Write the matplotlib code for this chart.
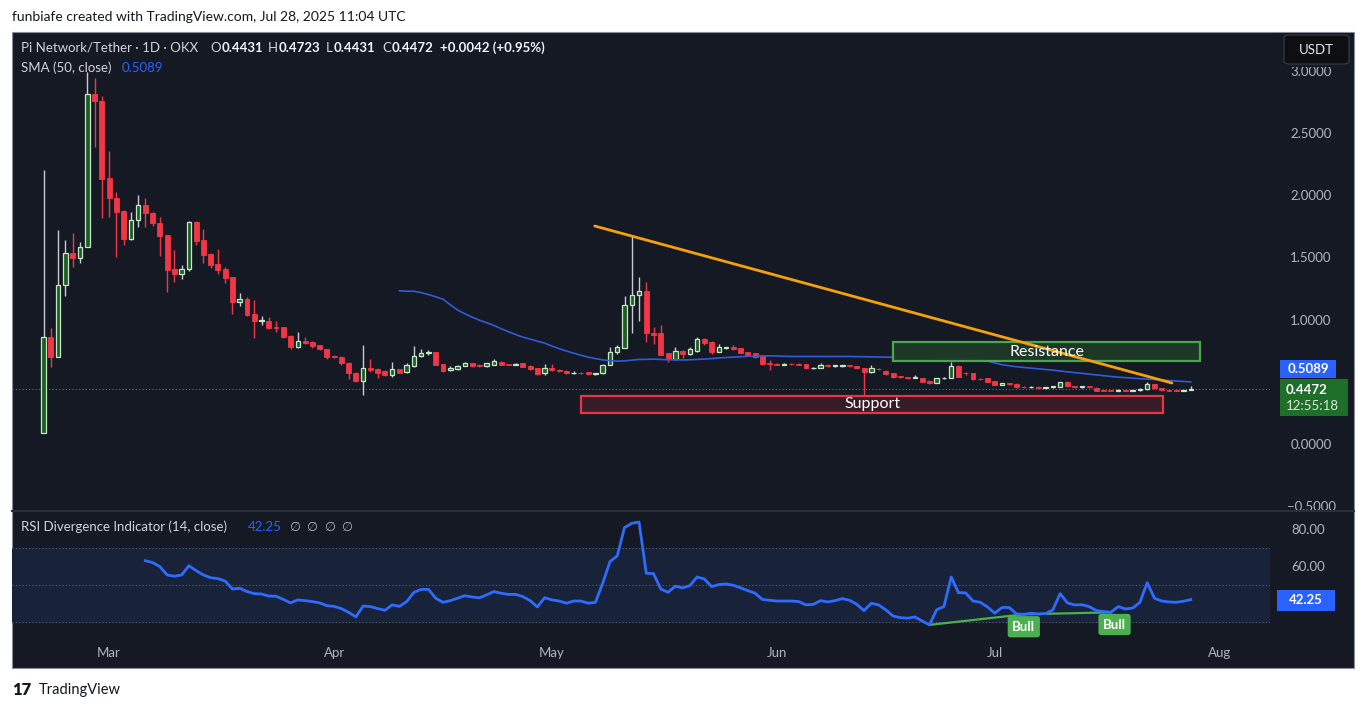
import numpy as np
import pandas as pd
import matplotlib
matplotlib.use("Agg")
import matplotlib.pyplot as plt
from matplotlib.patches import Rectangle, FancyBboxPatch
import matplotlib.transforms as mtransforms

plt.rcParams['font.family'] = ['Lato', 'DejaVu Sans']

# ---------------- data ----------------
dates = pd.date_range('2025-02-20', '2025-07-28', freq='D')

opens = [0.10, 0.87, 0.71, 1.285, 1.545, 1.505, 1.59, 2.82, 2.765, 2.145,
         1.985, 1.88, 1.655, 1.81, 1.93, 1.865, 1.785, 1.687, 1.41, 1.37,
         1.415, 1.79, 1.645, 1.535, 1.455, 1.41, 1.35, 1.145, 1.17, 1.05,
         0.995, 0.998, 0.945, 0.945, 0.875, 0.785, 0.838, 0.825, 0.80, 0.77,
         0.715, 0.71, 0.66, 0.576, 0.516, 0.62, 0.61, 0.594, 0.562, 0.608,
         0.584, 0.634, 0.715, 0.737, 0.745, 0.648, 0.60, 0.61, 0.637, 0.655,
         0.64, 0.636, 0.645, 0.67, 0.648, 0.646, 0.656, 0.634, 0.616, 0.576,
         0.62, 0.602, 0.597, 0.576, 0.58, 0.585, 0.57, 0.575, 0.643, 0.745,
         0.78, 1.125, 1.205, 1.24, 0.90, 0.897, 0.737, 0.688, 0.755, 0.731,
         0.755, 0.849, 0.83, 0.75, 0.782, 0.79, 0.776, 0.745, 0.737, 0.715,
         0.656, 0.652, 0.645, 0.652, 0.648, 0.648, 0.616, 0.62, 0.645, 0.632,
         0.635, 0.64, 0.632, 0.616, 0.584, 0.612, 0.597, 0.576, 0.548, 0.545,
         0.54, 0.536, 0.516, 0.50, 0.536, 0.536, 0.634, 0.58, 0.576, 0.53,
         0.535, 0.514, 0.482, 0.495, 0.49, 0.465, 0.462, 0.466, 0.46, 0.462,
         0.468, 0.508, 0.472, 0.468, 0.47, 0.46, 0.438, 0.437, 0.434, 0.44,
         0.437, 0.441, 0.45, 0.487, 0.455, 0.44, 0.44, 0.437, 0.4431]
highs = [2.21, 0.94, 1.73, 1.65, 1.70, 1.63, 3.00, 2.95, 2.80, 2.36,
         2.03, 1.89, 1.87, 2.01, 1.985, 1.87, 1.83, 1.69, 1.57, 1.445,
         1.80, 1.80, 1.735, 1.54, 1.575, 1.43, 1.35, 1.22, 1.19, 1.165,
         1.04, 1.03, 0.998, 0.95, 0.88, 0.905, 0.865, 0.835, 0.805, 0.775,
         0.725, 0.715, 0.665, 0.59, 0.80, 0.69, 0.615, 0.60, 0.664, 0.61,
         0.66, 0.795, 0.775, 0.765, 0.75, 0.65, 0.635, 0.645, 0.67, 0.66,
         0.65, 0.66, 0.69, 0.675, 0.65, 0.655, 0.66, 0.64, 0.62, 0.65,
         0.65, 0.61, 0.60, 0.595, 0.585, 0.59, 0.58, 0.65, 0.79, 0.80,
         1.20, 1.68, 1.347, 1.307, 0.95, 0.964, 0.74, 0.79, 0.76, 0.79,
         0.87, 0.86, 0.835, 0.81, 0.79, 0.80, 0.78, 0.75, 0.74, 0.72,
         0.68, 0.655, 0.66, 0.66, 0.655, 0.65, 0.625, 0.655, 0.65, 0.645,
         0.645, 0.645, 0.635, 0.62, 0.64, 0.62, 0.60, 0.58, 0.555, 0.55,
         0.56, 0.54, 0.52, 0.54, 0.545, 0.67, 0.64, 0.59, 0.58, 0.54,
         0.54, 0.515, 0.50, 0.50, 0.495, 0.47, 0.475, 0.47, 0.465, 0.475,
         0.51, 0.515, 0.475, 0.475, 0.475, 0.465, 0.44, 0.44, 0.45, 0.445,
         0.445, 0.46, 0.51, 0.49, 0.46, 0.445, 0.445, 0.445, 0.4723]
lows = [0.10, 0.63, 0.71, 1.20, 1.43, 1.46, 1.59, 2.39, 1.82, 1.83,
        1.51, 1.61, 1.65, 1.75, 1.75, 1.76, 1.52, 1.23, 1.31, 1.33,
        1.40, 1.607, 1.46, 1.425, 1.37, 1.30, 1.05, 1.115, 1.04, 0.86,
        0.965, 0.93, 0.91, 0.86, 0.775, 0.78, 0.81, 0.78, 0.76, 0.69,
        0.70, 0.645, 0.53, 0.51, 0.40, 0.59, 0.54, 0.555, 0.544, 0.575,
        0.58, 0.63, 0.71, 0.725, 0.64, 0.59, 0.595, 0.605, 0.635, 0.63,
        0.628, 0.63, 0.64, 0.64, 0.64, 0.64, 0.625, 0.60, 0.56, 0.56,
        0.595, 0.59, 0.57, 0.57, 0.57, 0.565, 0.565, 0.57, 0.64, 0.73,
        0.78, 0.90, 1.0, 0.83, 0.81, 0.72, 0.67, 0.685, 0.70, 0.725,
        0.75, 0.80, 0.73, 0.745, 0.775, 0.765, 0.735, 0.715, 0.70, 0.645,
        0.60, 0.64, 0.64, 0.645, 0.64, 0.61, 0.61, 0.615, 0.63, 0.628,
        0.63, 0.628, 0.61, 0.39, 0.58, 0.60, 0.565, 0.54, 0.535, 0.53,
        0.535, 0.505, 0.49, 0.495, 0.53, 0.535, 0.545, 0.56, 0.525, 0.52,
        0.505, 0.478, 0.478, 0.485, 0.46, 0.455, 0.455, 0.455, 0.455, 0.458,
        0.465, 0.465, 0.46, 0.46, 0.46, 0.43, 0.43, 0.43, 0.43, 0.43,
        0.43, 0.435, 0.445, 0.45, 0.435, 0.43, 0.43, 0.43, 0.4431]
closes = [0.87, 0.71, 1.285, 1.545, 1.505, 1.59, 2.82, 2.765, 2.14, 1.98,
          1.875, 1.655, 1.81, 1.93, 1.865, 1.78, 1.68, 1.405, 1.37, 1.415,
          1.79, 1.64, 1.525, 1.445, 1.405, 1.345, 1.145, 1.17, 1.045, 0.995,
          1.0, 0.937, 0.94, 0.87, 0.785, 0.838, 0.82, 0.795, 0.77, 0.71,
          0.705, 0.656, 0.576, 0.516, 0.62, 0.60, 0.576, 0.562, 0.608, 0.58,
          0.643, 0.715, 0.737, 0.745, 0.643, 0.594, 0.62, 0.637, 0.655, 0.632,
          0.636, 0.655, 0.675, 0.645, 0.646, 0.648, 0.629, 0.608, 0.57, 0.616,
          0.60, 0.598, 0.576, 0.58, 0.575, 0.57, 0.573, 0.643, 0.745, 0.79,
          1.125, 1.205, 1.24, 0.897, 0.885, 0.723, 0.688, 0.755, 0.731, 0.769,
          0.849, 0.817, 0.75, 0.785, 0.785, 0.769, 0.741, 0.723, 0.71, 0.65,
          0.652, 0.645, 0.648, 0.648, 0.644, 0.616, 0.62, 0.645, 0.632, 0.64,
          0.642, 0.632, 0.616, 0.584, 0.616, 0.608, 0.568, 0.544, 0.545, 0.54,
          0.545, 0.508, 0.496, 0.536, 0.54, 0.634, 0.55, 0.575, 0.528, 0.528,
          0.51, 0.482, 0.495, 0.49, 0.463, 0.462, 0.466, 0.46, 0.462, 0.47,
          0.504, 0.47, 0.468, 0.47, 0.467, 0.436, 0.436, 0.434, 0.44, 0.437,
          0.441, 0.45, 0.487, 0.455, 0.44, 0.436, 0.437, 0.443, 0.4472]

rsi_start = 14
rsi_values = [63.3, 62.3, 60.1, 55.6, 54.9, 55.6, 60.6, 57.9, 55.6, 54.1,
              53.6, 52.3, 48.0, 48.4, 46.6, 45.5, 45.3, 44.2, 44.1, 42.4,
              40.5, 42.1, 41.7, 41.2, 40.5, 39.0, 38.6, 37.4, 35.4, 32.9,
              38.8, 38.5, 37.4, 36.5, 39.4, 38.6, 41.2, 46.2, 47.8, 47.8,
              43.0, 40.8, 41.7, 43.0, 44.4, 43.7, 43.2, 44.8, 46.6, 45.7,
              45.1, 45.1, 43.9, 41.7, 38.3, 43.3, 42.1, 41.5, 40.3, 41.5,
              41.5, 40.3, 40.8, 51.1, 62.8, 65.9, 81.2, 83.5, 84.2, 56.5,
              56.3, 48.0, 46.2, 49.5, 48.6, 49.8, 54.5, 53.4, 49.3, 50.4,
              50.7, 50.0, 48.6, 47.1, 45.7, 42.3, 41.9, 41.5, 41.5, 41.5,
              41.2, 39.4, 39.7, 41.7, 41.0, 41.7, 42.8, 41.9, 39.7, 36.3,
              40.3, 39.4, 36.7, 33.4, 32.5, 32.2, 32.9, 30.7, 28.6, 36.8,
              38.5, 54.5, 46.0, 45.9, 41.5, 40.8, 38.3, 34.9, 38.0, 38.0,
              34.5, 34.3, 34.9, 34.5, 34.7, 36.7, 45.5, 40.5, 39.4, 39.5,
              38.5, 36.3, 35.8, 35.4, 38.5, 37.2, 37.7, 40.8, 51.4, 43.0,
              41.5, 41.0, 40.8, 41.4, 42.25]

# bullish divergence pivots (bar index, rsi)
div_idx = [122, 135, 147]
div_rsi = [28.6, 34.3, 35.4]
bull_label_idx = [135, 147.5]
bull_label_rsi = [27.6, 28.8]

month_labels = ['Mar', 'Apr', 'May', 'Jun', 'Jul', 'Aug']
month_dates = ['2025-03-01', '2025-04-01', '2025-05-01', '2025-06-01', '2025-07-01', '2025-08-01']
price_ticks = [3.0, 2.5, 2.0, 1.5, 1.0, 0.0, -0.5]
rsi_ticks = [80, 60]

trend_idx = [75.9, 155.4]
trend_price = [1.759, 0.498]
resist_idx = [117.0, 159.3]
resist_price = [0.675, 0.827]
support_idx = [74.0, 154.2]
support_price = [0.257, 0.394]

sma_len = 50
last_price = 0.4472
sma_last = 0.5089
rsi_last = 42.25

# ---------------- figure ----------------
W, H = 1366, 709
fig = plt.figure(figsize=(W / 100, H / 100), dpi=100)
fig.patch.set_facecolor('white')

def frect(x0, y0, x1, y1):
    return [x0 / W, 1 - y1 / H, (x1 - x0) / W, (y1 - y0) / H]

def ptext(x, y, s, **kw):
    return fig.text(x / W, 1 - y / H, s, **kw)

BG = '#151924'
TXT = '#d1d4dc'
SCALE_TXT = '#b2b5be'
BLUE = '#2962ff'
RED = '#f23645'
GREEN_BODY = '#1c5e22'
GREEN_EDGE = '#c8e6c9'

# dark chart panel (behind everything)
fig.patches.append(Rectangle((12 / W, 1 - 668 / H), (1354 - 12) / W, (668 - 32) / H,
                             transform=fig.transFigure, facecolor=BG,
                             edgecolor='#8a8d96', linewidth=0.8, zorder=-10))
fig.lines.append(plt.Line2D([12 / W, 1354 / W], [1 - 511 / H, 1 - 511 / H],
                            transform=fig.transFigure, color='#2a2e39', linewidth=1.5,
                            zorder=-9))

XL = ((12 - 43.7) / 7.26, (1270 - 43.7) / 7.26)
ax = fig.add_axes(frect(12, 32, 1270, 510))
ax.set_xlim(*XL)
ax.set_ylim((445 - 510) / 124.5, (445 - 32) / 124.5)
ax.axis('off')
ax.patch.set_alpha(0)

axr = fig.add_axes(frect(12, 512, 1270, 640))
axr.set_xlim(*XL)
axr.set_ylim(50 - (640 - 585.3) / 1.85, 50 - (512 - 585.3) / 1.85)
axr.axis('off')
axr.patch.set_alpha(0)

n = len(closes)
idx = np.arange(n)
o = np.array(opens); h = np.array(highs); l = np.array(lows); c = np.array(closes)
up = c >= o

# wicks
ax.vlines(idx[up], l[up], h[up], color='#c8cbd2', linewidth=1.0, zorder=2)
ax.vlines(idx[~up], l[~up], h[~up], color=RED, linewidth=1.0, zorder=2)
# bodies
bottom = np.minimum(o, c)
height = np.maximum(np.abs(c - o), 0.006)
ax.bar(idx[up], height[up], bottom=bottom[up], width=0.62, color=GREEN_BODY,
       edgecolor=GREEN_EDGE, linewidth=0.9, zorder=3)
ax.bar(idx[~up], height[~up], bottom=bottom[~up], width=0.68, color=RED,
       edgecolor=RED, linewidth=0.6, zorder=3)

# SMA 50
sma = pd.Series(closes).rolling(sma_len).mean()
ax.plot(idx, sma, color='#2f5bd8', linewidth=1.2, zorder=4)

# last price dotted line
ax.axhline(last_price, color='#6a6d78', linestyle=(0, (1, 2)), linewidth=0.8, zorder=1)

# trend line
ax.plot(trend_idx, trend_price, color='#f5a00f', linewidth=2.0, zorder=6,
        solid_capstyle='round')

# resistance / support zones
ax.add_patch(Rectangle((resist_idx[0], resist_price[0]), resist_idx[1] - resist_idx[0],
                       resist_price[1] - resist_price[0], facecolor='#1e3a27',
                       edgecolor='#4caf50', linewidth=1.6, zorder=5, alpha=0.95))
ax.text(np.mean(resist_idx), np.mean(resist_price), 'Resistance', color='white',
        ha='center', va='center', fontsize=11.5, zorder=7)
ax.add_patch(Rectangle((support_idx[0], support_price[0]), support_idx[1] - support_idx[0],
                       support_price[1] - support_price[0], facecolor='#3a1d28',
                       edgecolor=RED, linewidth=1.6, zorder=5, alpha=0.95))
ax.text(np.mean(support_idx), np.mean(support_price), 'Support', color='white',
        ha='center', va='center', fontsize=11.5, zorder=7)

# RSI pane
axr.axhspan(30, 70, color='#18233a', zorder=0)
for lvl in (70, 50, 30):
    axr.axhline(lvl, color='#5d606b', linestyle=(0, (1, 2)), linewidth=0.8, zorder=1)
ridx = np.arange(rsi_start, rsi_start + len(rsi_values))
axr.plot(ridx, rsi_values, color='#2f6bff', linewidth=2.0, zorder=4)
axr.plot(div_idx, div_rsi, color='#4caf50', linewidth=1.6, zorder=3)
for bi, br in zip(bull_label_idx, bull_label_rsi):
    axr.text(bi, br, 'Bull', color='white', fontsize=9.5, fontweight='bold',
             ha='center', va='center', zorder=6,
             bbox=dict(boxstyle='round,pad=0.35,rounding_size=0.2', fc='#4caf50', ec='none'))

# right price scale labels (clipped to the price pane)
clip_rect = Rectangle((12 / W, 1 - 510 / H), (1354 - 12) / W, (510 - 32) / H,
                      transform=fig.transFigure)
for p in price_ticks:
    y = 445 - 124.5 * p
    t = ptext(1311, y, f'{p:.4f}'.replace('-', '\u2212'), color=SCALE_TXT, fontsize=9.5,
              ha='center', va='center')
    t.set_clip_on(True)
    t.set_clip_path(clip_rect)
# backdrop + USDT button
fig.patches.append(Rectangle((1272 / W, 1 - 67 / H), 82 / W, 34 / H,
                             transform=fig.transFigure, facecolor=BG, edgecolor='none', zorder=5))
fig.patches.append(FancyBboxPatch((1284 / W, 1 - 64 / H), 65 / W, 29 / H,
                                  boxstyle='round,pad=0,rounding_size=0.004',
                                  transform=fig.transFigure, facecolor='#0e0f13',
                                  edgecolor='#3a3d47', linewidth=0.8, zorder=6))
ptext(1316.5, 50, 'USDT', color='#e6e8ee', fontsize=9.5, ha='center', va='center', zorder=7)

for r in rsi_ticks:
    y = 585.3 - (r - 50) * 1.85
    ptext(1308, y, f'{r:.2f}', color=SCALE_TXT, fontsize=9.5, ha='center', va='center')

# value tags on scales
fig.patches.append(Rectangle((1280 / W, 1 - 378 / H), 56 / W, 18 / H, transform=fig.transFigure,
                             facecolor=BLUE, edgecolor='none', zorder=6))
ptext(1308, 369, f'{sma_last:.4f}', color='white', fontsize=9.5, fontweight='bold',
      ha='center', va='center', zorder=7)
fig.patches.append(Rectangle((1280 / W, 1 - 416 / H), 68 / W, 37 / H, transform=fig.transFigure,
                             facecolor='#1f6f2a', edgecolor='none', zorder=6))
ptext(1286, 390, f'{last_price:.4f}', color='white', fontsize=9.5, fontweight='bold',
      ha='left', va='center', zorder=7)
ptext(1286, 405.5, '12:55:18', color='#d8ecd9', fontsize=9.5, ha='left', va='center', zorder=7)
fig.patches.append(Rectangle((1277 / W, 1 - 611 / H), 58 / W, 21 / H, transform=fig.transFigure,
                             facecolor=BLUE, edgecolor='none', zorder=6))
ptext(1306, 600.5, f'{rsi_last:.2f}', color='white', fontsize=9.5, fontweight='bold',
      ha='center', va='center', zorder=7)

# time axis labels
tr = mtransforms.blended_transform_factory(axr.transData, fig.transFigure)
for lab, d in zip(month_labels, month_dates):
    i = (pd.Timestamp(d) - dates[0]).days
    axr.text(i, 1 - 653 / H, lab, transform=tr, color=SCALE_TXT, fontsize=9.5,
             ha='center', va='center', clip_on=False)

# header texts
ptext(12, 17, 'funbiafe created with TradingView.com, Jul 28, 2025 11:04 UTC',
      color='#131722', fontsize=10, ha='left', va='center')
ptext(21, 48, 'Pi Network/Tether \u00b7 1D \u00b7 OKX', color=TXT, fontsize=9.5, ha='left', va='center')

fig.canvas.draw()
renderer = fig.canvas.get_renderer()
for x, lab, val in [(210, 'O', '0.4431'), (268, 'H', '0.4723'), (326, 'L', '0.4431'), (382, 'C', '0.4472')]:
    tl = ptext(x, 48, lab, color=TXT, fontsize=9.5, ha='left', va='center')
    wpx = tl.get_window_extent(renderer).width
    ptext(x + wpx + 0.5, 48, val, color='#f0f3fa', fontsize=9.5, fontweight='bold',
          ha='left', va='center')
ptext(440, 48, '+0.0042 (+0.95%)', color='#f0f3fa', fontsize=9.5, fontweight='bold', ha='left', va='center')
ptext(21, 68, 'SMA (50, close)', color=TXT, fontsize=9.5, ha='left', va='center')
ptext(122, 68, f'{sma_last:.4f}', color=BLUE, fontsize=9.5, ha='left', va='center')
ptext(21, 527, 'RSI Divergence Indicator (14, close)', color=TXT, fontsize=9.5, ha='left', va='center')
ptext(248, 527, f'{rsi_last:.2f}', color=BLUE, fontsize=9.5, ha='left', va='center')
for x in (294, 311, 329, 346):
    ptext(x, 527, '\u2205', color=SCALE_TXT, fontsize=9, ha='center', va='center')

# TradingView footer
ptext(12, 690, '17', color='#131722', fontsize=12, fontweight='heavy', ha='left', va='center')
ptext(39, 690, 'TradingView', color='#131722', fontsize=10.5, ha='left', va='center')

fig.savefig('out.png', dpi=100, facecolor='white')
